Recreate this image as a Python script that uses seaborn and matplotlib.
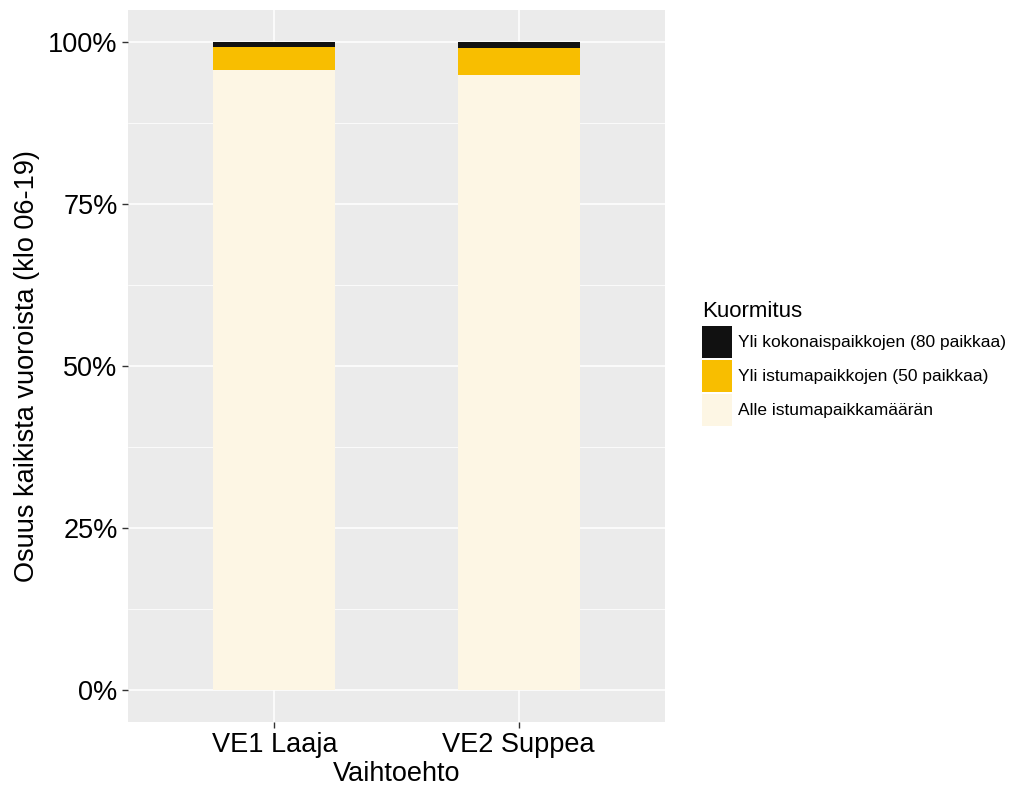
import numpy as np
import pandas as pd
import matplotlib
matplotlib.use("Agg")
import matplotlib.pyplot as plt
import matplotlib.ticker as mticker
from matplotlib.patches import Patch
import seaborn as sns

# data (share of departures, %)
vaihtoehdot = ["VE1 Laaja", "VE2 Suppea"]
alle_istuma = [95.7, 95.0]
yli_istuma = [3.6, 4.1]
yli_kokonais = [0.7, 0.9]

luokat = ["Yli kokonaispaikkojen (80 paikkaa)",
          "Yli istumapaikkojen (50 paikkaa)",
          "Alle istumapaikkamäärän"]
varit = ["#111111", "#F8BE00", "#FDF6E4"]

sns.set_theme(style="darkgrid")
plt.rcParams["font.family"] = ["Liberation Sans", "DejaVu Sans"]
plt.rcParams["text.color"] = "black"
plt.rcParams["axes.labelcolor"] = "black"

fig = plt.figure(figsize=(10.24, 7.97), dpi=100)
ax = fig.add_axes([128 / 1024, 75 / 797, 537 / 1024, 712 / 797])
ax.set_facecolor("#EBEBEB")

d = pd.DataFrame({"Vaihtoehto": vaihtoehdot,
                  "alle": np.array(alle_istuma) / 100,
                  "istuma": np.array(yli_istuma) / 100,
                  "kokonais": np.array(yli_kokonais) / 100})
d["top"] = d["alle"] + d["istuma"] + d["kokonais"]
d["mid"] = d["alle"] + d["istuma"]

# stacked bars: draw cumulative totals, tallest first
for col, c in zip(["top", "mid", "alle"], varit):
    sns.barplot(data=d, x="Vaihtoehto", y=col, color=c, width=0.5,
                order=vaihtoehdot, saturation=1, linewidth=0, ax=ax)

ax.set_xlim(-0.6, 1.6)
ax.set_ylim(-0.05, 1.05)
ax.yaxis.set_major_locator(mticker.FixedLocator([0, 0.25, 0.5, 0.75, 1.0]))
ax.yaxis.set_minor_locator(mticker.FixedLocator([0.125, 0.375, 0.625, 0.875]))
ax.yaxis.set_major_formatter(mticker.PercentFormatter(1.0, decimals=0))
ax.grid(which="major", color="white", linewidth=1.1)
ax.grid(which="minor", axis="y", color="white", linewidth=0.55)
ax.set_axisbelow(True)
for s in ax.spines.values():
    s.set_visible(False)

ax.tick_params(axis="both", which="major", labelsize=19.5, colors="#333333",
               labelcolor="black", length=4.5, width=1, pad=3, bottom=True, left=True)
ax.tick_params(axis="y", which="minor", left=False)
ax.set_xlabel("Vaihtoehto", fontsize=19.5, labelpad=2)
ax.set_ylabel("Osuus kaikista vuoroista (klo 06-19)", fontsize=19.5, labelpad=6)

handles = [Patch(facecolor=c, edgecolor="none", label=l) for c, l in zip(varit, luokat)]
leg = fig.legend(handles=handles, title="Kuormitus", loc="upper left",
                 bbox_to_anchor=(702 / 1024, 1 - 301 / 797), frameon=False,
                 fontsize=12.5, title_fontsize=16, handlelength=1.75, handleheight=2.45,
                 handletextpad=0.3, labelspacing=0.12, borderaxespad=0, borderpad=0)
leg._legend_box.align = "left"
leg._legend_box.sep = 3

fig.savefig("out.png", dpi=100)
